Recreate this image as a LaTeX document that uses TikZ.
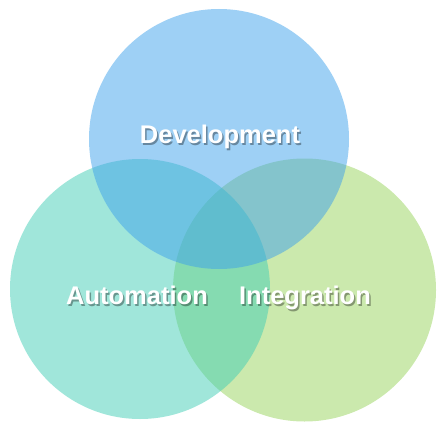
\documentclass[tikz,border=0pt]{standalone}
\usepackage{fontspec}
\setmainfont{Liberation Sans}
\usetikzlibrary{positioning}

\definecolor{devblue}{RGB}{61,161,235}
\definecolor{autoteal}{RGB}{65,205,181}
\definecolor{integreen}{RGB}{151,211,91}

\begin{document}
\begin{tikzpicture}[x=1pt, y=1pt,
    venn/.style={circle, inner sep=0pt, draw=none, fill opacity=0.5},
    lbl/.style={text=white, font=\fontsize{25.5}{30}\selectfont\bfseries, anchor=base, inner sep=0pt},
    lblshadow/.style={lbl, text=black, text opacity=0.35}]
    \useasboundingbox (0,0) rectangle (444,432);
    %
    \node[venn, fill=integreen, minimum size=263pt] (vInt) at (304.5,142) {};
    \node[venn, fill=autoteal,  minimum size=260pt] (vAuto) at (140,143) {};
    \node[venn, fill=devblue,   minimum size=260pt] (vDev) at (219,293) {};
    %
    \node[lblshadow] (tDevS)  at (221.5,287) {Development};
    \node[lblshadow] (tAutoS) at (138.5,126) {Automation};
    \node[lblshadow] (tIntS)  at (306.5,126) {Integration};
    %
    \node[lbl] (tDev)  at (220,289) {Development};
    \node[lbl] (tAuto) at (137,128) {Automation};
    \node[lbl] (tInt)  at (305,128) {Integration};
\end{tikzpicture}
\end{document}
